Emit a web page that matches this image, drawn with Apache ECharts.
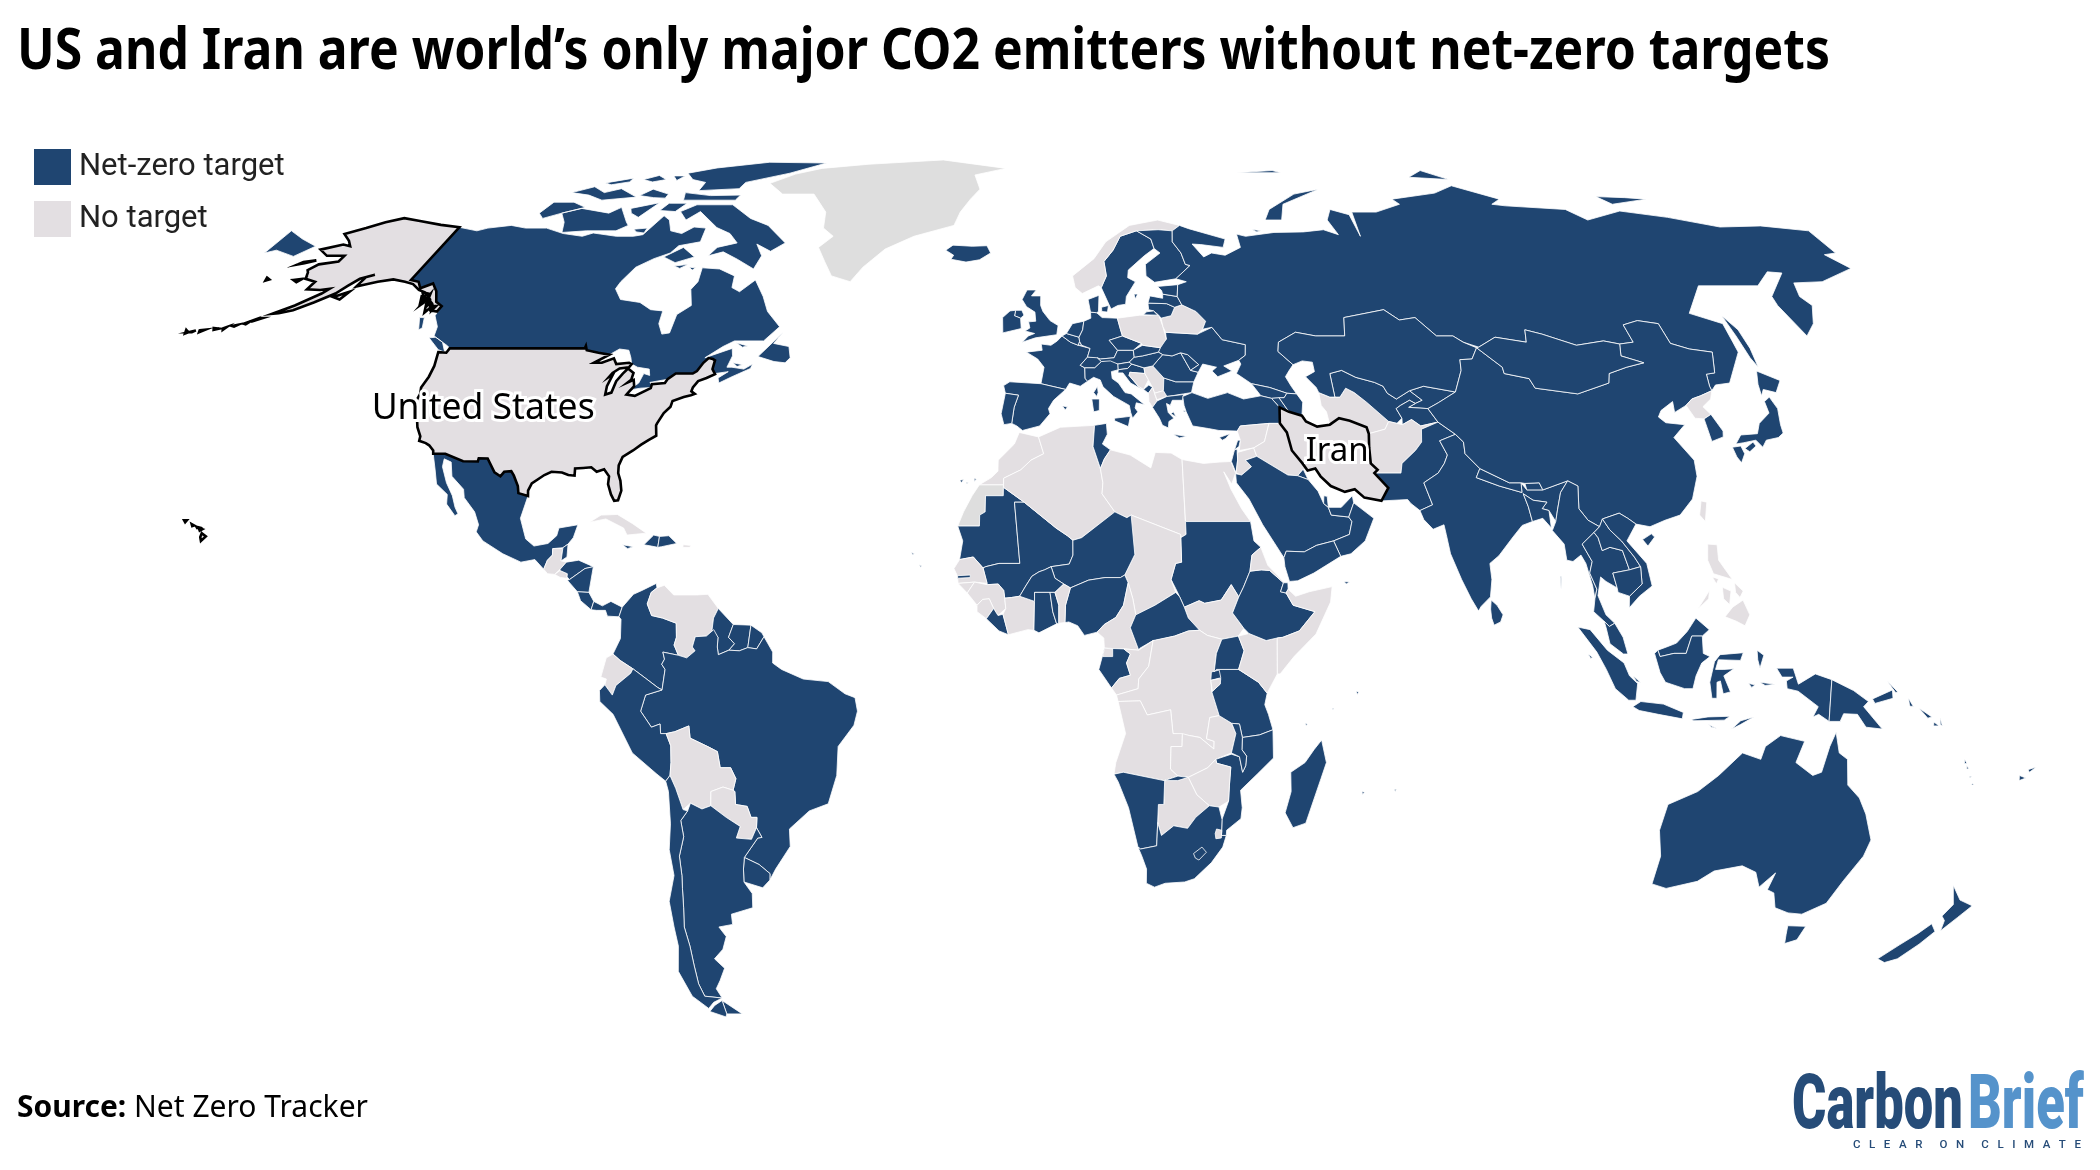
<![CDATA[<!DOCTYPE html>
<html>
<head>
<meta charset="utf-8">
<style>html,body{margin:0;padding:0;background:#fff}#chart{width:2100px;height:1170px}</style>
<script src="https://cdn.jsdelivr.net/npm/echarts@6/dist/echarts.min.js"></script>
</head>
<body>
<div id="chart"></div>
<script>
// Country status, read off the map
const netZeroCountries = ["Canada","Canada Arctic","Mexico","Belize","Honduras","Nicaragua","Costa Rica","Panama","Jamaica","Haiti","Dominican Republic",
  "Colombia","Guyana","Suriname","French Guiana","Brazil","Peru","Uruguay","Argentina","Chile","Iceland","United Kingdom","Ireland","France","Spain","Portugal",
  "Belgium","Netherlands","Luxembourg","Germany","Denmark","Switzerland","Austria","Italy","Slovenia","Croatia","Montenegro","Bulgaria","Greece","Romania","Moldova",
  "Ukraine","Hungary","Slovakia","Czechia","Lithuania","Latvia","Estonia","Sweden","Finland","Russia","Georgia","Armenia","Azerbaijan","Turkey","Cyprus","Lebanon","Israel",
  "Kuwait","Saudi Arabia","Qatar","UAE","Oman","Yemen","Uzbekistan","Kyrgyzstan","Tajikistan","Kazakhstan","Pakistan","India","Nepal","Bhutan","Bangladesh","Sri Lanka",
  "China","Mongolia","South Korea","Japan","Myanmar","Thailand","Laos","Vietnam","Cambodia","Malaysia","Indonesia","Papua New Guinea","Solomon Islands","Vanuatu","Fiji","Australia","New Zealand",
  "Tunisia","Mauritania","Mali","Gambia","Liberia","Burkina Faso","Ghana","Togo","Niger","Nigeria","Central African Republic","Gabon","Sudan","Ethiopia","Djibouti","Uganda","Rwanda",
  "Tanzania","Malawi","Mozambique","Namibia","South Africa","Lesotho","Madagascar","Mauritius","Seychelles","Cape Verde"];
const noTargetCountries = ["Guatemala","El Salvador","Cuba","Puerto Rico","Venezuela","Ecuador","Bolivia","Paraguay","Norway","Poland","Belarus","Bosnia","Serbia","Albania","North Macedonia",
  "Syria","Jordan","Iraq","Turkmenistan","Afghanistan","North Korea","Taiwan","Philippines","Morocco","Algeria","Libya","Egypt","South Sudan","Chad","Senegal","Guinea-Bissau","Guinea","Sierra Leone",
  "Ivory Coast","Benin","Cameroon","Equatorial Guinea","Congo","DR Congo","Angola","Zambia","Burundi","Kenya","Eritrea","Somalia","Zimbabwe","Botswana","Eswatini","United States","Iran"];
const legendLabels = ["Net-zero target", "No target"];
const labelledCountries = ["United States", "Iran"];

// Country outlines as flat lon,lat lists, one list per landmass
const outlines = {
  "Greenland":[[-73,78.2,-68,76,-60,76,-55,72.5,-54,69.5,-51,68,-53.5,66,-51,63.5,-48.5,61,-44,60,-42,62.5,-38,65.7,-32,68,-23,70,-22,72.5,-20,75,-18,77,-20,80,-12,81.5,-30,83.6,-50,82.5,-62,81.5,-68,80.2]],
  "Western Sahara":[[-13.2,27.7,-8.7,27.7,-8.7,26,-12,26,-12,23.5,-13,23,-13,21.3,-17,21.3,-16,23.5,-14.5,26]],
  "Canada":[[-141,69.65,-136,69,-134,69.5,-129,70,-125,69.5,-120,69.5,-115,68.5,-110,68,-108,68.6,-102,68,-98,68,-96,68.3,-94,71.8,-92,71,-90,69,-87,68.5,-85,69.7,-82,69.5,-81.5,67,-86,66.3,-87,65,-90,64,-93,62.5,-94.5,60,-94.8,58.8,-92.5,57,-88,56.5,-85,55.3,-82.3,55.1,-82,53,-80.5,51.3,-79,51.5,-79,54.5,-76.7,56,-78.3,58.7,-77.5,60,-78,62.4,-74,62.2,-70,61,-69.5,59,-67.5,58.3,-65,60.3,-62,57.5,-60,55,-56.5,52.5,-59,50.2,-65,50.2,-67,49.3,-70,47.5,-65,49,-64.5,47.8,-65,46,-64,46,-61.5,45.7,-60,46.5,-60.2,45.8,-63.5,44.5,-65.8,43.5,-66.2,44.3,-64.5,45.3,-67,45,-67.8,45.7,-67.8,47.1,-68.3,47.3,-69.2,47.45,-70,46.7,-70.8,45.4,-71.5,45,-74.9,45,-76.2,44.1,-79.5,43.6,-79,43.2,-79,42.8,-81,42.7,-82.5,42.5,-82.4,43,-81.7,43.5,-81.3,45,-80,44.7,-80.5,45.7,-83,46,-84.4,46.5,-85,47.5,-86,48.7,-88,48.9,-89.6,48,-92,48.3,-94.6,48.7,-95.15,49.4,-95.15,49,-122.8,49,-123.5,49.4,-125,50,-127.5,51,-128,52.5,-130,54.3,-130,55.9,-131.8,56.6,-133.5,58.4,-135.5,59.7,-137.5,58.9,-139,60,-141,60.3],
    [-123.4,48.4,-125,48.8,-128.3,50.7,-127,50.8,-125,50],[-132,54,-133,54,-131.5,52,-131,52.3],[-59.3,47.7,-57,50,-55.5,51.6,-56.8,49.8,-53.5,49.3,-52.7,47.5,-53.5,46.7,-55.8,46.9],[-64,46.7,-62,46.4,-63,46.1],[-64.5,49.9,-62,49.4,-63,49.2]],
  "Canada Arctic":[[-90.7,72.6,-87.8,73.9,-78.9,73.9,-72.6,71.3,-67.5,70,-61.6,66.8,-64.2,65.3,-68.1,66.6,-65.8,64.5,-66.4,62.2,-71,63.9,-75,65.2,-78,64.5,-76.9,66,-72.8,66.8,-75.6,68.5,-79.5,69.6,-85.8,72.6,-88,71],
    [-88,64.3,-84.7,66,-81,64.3,-84.7,63.3],[-84.5,62.7,-81.5,63,-83,62.3],[-81,62.5,-79.5,62.4,-80,62],
    [-125,72.3,-124,74.4,-119,74.4,-115,73.4,-119.5,72.3,-123,71.3],[-119.5,72.3,-115.6,73.2,-108,72.3,-106,73.4,-102,70.6,-101,70,-103,69,-110,69,-115.5,68.7,-117,70.6],
    [-103.5,73.2,-97.5,74.3,-100,71.5,-102.5,72.3],[-96,72.8,-95,74.2,-90.5,74.2,-92,72.6],[-99,69.3,-96,69.5,-96,68.6,-98,68.8],
    [-122,76.3,-117.7,77.5,-113.7,76.3,-110.3,77.1,-104.5,75.4,-112.5,74.8,-117,75.8],[-116,78.3,-110,79.3,-110,78.5,-114,77.9],[-104,75.7,-102,77,-97,76,-97,75.2,-100,75.3],[-93,76.3,-86,75.7,-78.5,75.8,-79,74.8,-92,74.8],
    [-97,80.4,-90.7,81.6,-78,83,-62,82.8,-69.7,80.4,-79.5,78.4,-80,77.1,-90,76.7,-90,78.4,-94,79],[-107,79,-104,79.9,-101,79,-104,78.5],[-100,79.8,-97,79.8,-98,78.8]],
  "Mexico":[[-117.1,32.5,-114.8,32.5,-111,31.33,-108.2,31.3,-108.2,31.8,-106.5,31.75,-104.5,29.6,-103.2,29,-102.7,29.7,-101.4,29.8,-100.7,29.1,-99.5,27.5,-99.1,26.4,-97.2,25.95,-97.8,22.5,-96.2,19.3,-94.5,18.2,-92,18.6,-90.6,19.8,-90.4,21,-87,21.5,-87.5,19.5,-88.3,18.5,-89.15,17.95,-91,17.8,-90.9,16.8,-91.7,16,-92.2,14.6,-94,16.1,-96.5,15.7,-100,17,-104,19,-105.5,20.4,-105.3,21.5,-106.5,23.5,-109,25.7,-109.5,27,-112.3,29,-113.2,31.2,-114.7,31.7,-114.6,30.5,-113,28,-111.3,26,-110.3,24.2,-109.5,23.2,-110,22.9,-112,24.7,-112.3,26.2,-114.8,27.8,-115.8,30]],
  "Guatemala":[[-92.2,14.6,-91.7,16,-90.9,16.8,-91,17.8,-89.15,17.8,-89.2,15.9,-88.2,15.7,-89.2,14.6,-90.1,13.8,-91.4,13.9]],
  "Belize":[[-89.15,17.95,-88.3,18.5,-88.2,16.5,-89.2,15.9]],
  "El Salvador":[[-90.1,13.8,-89.2,14.4,-87.8,13.9,-87.8,13.2,-89,13.3]],
  "Honduras":[[-89.2,14.6,-88.2,15.7,-86,16,-83.2,15,-84.7,14.7,-87.3,13,-87.8,13.4,-87.8,13.9,-89.2,14.4]],
  "Nicaragua":[[-87.3,13,-84.7,14.7,-83.2,15,-83.6,11,-85.7,11.1,-87.7,12.9]],
  "Costa Rica":[[-85.7,11.1,-83.6,11,-82.6,9.6,-83,8.3,-85,9.7]],
  "Panama":[[-83,8.3,-82.6,9.6,-81,8.9,-79.5,9.6,-77.4,8.7,-77.9,7.2,-80,7.3,-80.4,8.2,-82,8.2]],
  "Cuba":[[-84.9,21.9,-83,23,-80,23.1,-77,21.7,-74.2,20.2,-77.7,19.9,-78.5,21,-82,22.4]],
  "Jamaica":[[-78.3,18.4,-76.3,18.1,-77.3,17.8]],
  "Haiti":[[-74.4,18.4,-72.8,19.9,-71.7,19.7,-71.8,18,-73,18.2]],
  "Dominican Republic":[[-71.7,19.7,-70,19.8,-68.4,18.6,-71.1,18.1,-71.8,18]],
  "Puerto Rico":[[-67.2,18.4,-65.7,18.3,-66,18,-67.2,18]],
  "Colombia":[[-77.4,8.7,-75.5,10.7,-74,11.3,-71.5,12.4,-71.3,11.7,-72.3,11,-72.9,9.2,-72,7.4,-70,7,-67.5,6.2,-67.4,4,-67.8,2.8,-67,1.2,-69.8,1.7,-69.5,0.6,-70,-0.2,-69.4,-1,-70,-4.2,-70.8,-3.8,-72.9,-2.4,-75.2,-0.9,-77.5,0.4,-78.8,1.4,-77.5,3.8,-77.5,6.8,-77.9,7.2]],
  "Venezuela":[[-71.3,11.7,-70,12.1,-68.2,10.6,-64,10.6,-62,10.7,-60,8.5,-60.8,7,-61,5.2,-60.7,5.2,-62,4.2,-64,4.1,-64.5,2.5,-64,1.9,-65.5,0.8,-67,1.2,-67.8,2.8,-67.4,4,-67.5,6.2,-70,7,-72,7.4,-72.9,9.2,-72.3,11]],
  "Guyana":[[-60,8.5,-57.2,6,-58,4,-56.9,3,-57.9,2,-59.8,1.3,-60,2.5,-59.9,4,-61,5.2,-60.8,7]],
  "Suriname":[[-57.2,6,-54,5.9,-54.5,2.4,-56,1.9,-57.9,2,-56.9,3,-58,4]],
  "French Guiana":[[-54,5.9,-52,4.7,-51.6,4.1,-52.9,2.2,-54.5,2.4]],
  "Brazil":[[-51.6,4.1,-50,1.7,-50,0,-48.4,-1,-44.5,-2.5,-40,-2.9,-37,-4.8,-35.2,-5.4,-34.8,-7.5,-35.5,-9.7,-38.5,-13,-39,-17.5,-40.9,-21.9,-44.5,-23,-48.5,-25.8,-48.7,-28.5,-52,-32,-53.4,-33.7,-53.2,-32.7,-55,-31.3,-57.6,-30.2,-54.6,-27.2,-53.8,-27.1,-54.6,-25.6,-54.3,-24,-55.4,-24,-55.9,-22.3,-58,-22,-57.9,-20,-58.2,-19.8,-57.5,-18,-58.3,-16.3,-60.2,-16.3,-60.5,-13.8,-62,-13.1,-65.3,-11.7,-65.4,-9.8,-68,-10.7,-69.6,-11,-70.6,-11,-70.6,-9.5,-72.2,-10,-74,-7.5,-73,-5,-70,-4.2,-69.4,-1,-70,-0.2,-69.5,0.6,-69.8,1.7,-67,1.2,-65.5,0.8,-64,1.9,-64.5,2.5,-64,4.1,-62,4.2,-60.7,5.2,-59.9,4,-60,2.5,-59.8,1.3,-57.9,2,-56,1.9,-54.5,2.4,-52.9,2.2]],
  "Ecuador":[[-78.8,1.4,-77.5,0.4,-75.2,-0.9,-75.6,-1.6,-78.3,-3.5,-79,-5,-80.3,-3.4,-80,-2.5,-81,-2.2,-80,0.8]],
  "Peru":[[-80.3,-3.4,-79,-5,-78.3,-3.5,-75.6,-1.6,-75.2,-0.9,-72.9,-2.4,-70.8,-3.8,-70,-4.2,-73,-5,-74,-7.5,-72.2,-10,-70.6,-9.5,-70.6,-11,-69.6,-11,-68.9,-12.9,-69.1,-15.5,-69.5,-17.5,-70.4,-18.4,-72,-17.2,-76,-14,-79,-8,-81.3,-6,-81.3,-4.3]],
  "Bolivia":[[-69.6,-11,-68,-10.7,-65.4,-9.8,-65.3,-11.7,-62,-13.1,-60.5,-13.8,-60.2,-16.3,-58.3,-16.3,-57.5,-18,-58.2,-19.8,-60,-19.3,-62.3,-20,-62.6,-22.2,-64.3,-22.7,-66.3,-21.8,-67.8,-22.8,-68.7,-19.5,-69.5,-17.5,-69.1,-15.5,-68.9,-12.9]],
  "Paraguay":[[-58.2,-19.8,-57.9,-20,-58,-22,-55.9,-22.3,-55.4,-24,-54.3,-24,-54.6,-25.6,-55.8,-27.4,-58.6,-27.2,-57.6,-25.4,-60,-24,-62.6,-22.2,-62.3,-20,-60,-19.3]],
  "Uruguay":[[-57.6,-30.2,-55,-31.3,-53.2,-32.7,-53.4,-33.7,-55,-34.9,-58.4,-34,-58.1,-32]],
  "Argentina":[[-66.3,-21.8,-64.3,-22.7,-62.6,-22.2,-60,-24,-57.6,-25.4,-58.6,-27.2,-55.8,-27.4,-54.6,-25.6,-53.8,-27.1,-54.6,-27.2,-57.6,-30.2,-58.1,-32,-58.4,-34,-57.2,-35.8,-57.6,-38,-62,-39,-62.2,-40.6,-65,-41,-64,-42.5,-65.3,-44.5,-67.5,-46,-66,-47.5,-67.7,-49.5,-69,-50.8,-68.4,-52.3,-71.9,-52,-72.3,-50,-72,-47,-71.7,-44,-71.8,-41,-71,-38,-70.4,-35,-70,-33,-69.8,-30,-68.4,-27,-68.5,-24.5,-67,-23],[-68.6,-52.7,-68.6,-54.9,-65.3,-54.9]],
  "Chile":[[-70.4,-18.4,-69.5,-17.5,-68.7,-19.5,-67.8,-22.8,-67,-23,-68.5,-24.5,-68.4,-27,-69.8,-30,-70,-33,-70.4,-35,-71,-38,-71.8,-41,-71.7,-44,-72,-47,-72.3,-50,-71.9,-52,-68.4,-52.3,-70.5,-53,-72,-54,-74.5,-52,-75.6,-48,-74,-44,-73.8,-41,-73.5,-37,-71.5,-33,-71.5,-29,-70.5,-25,-70.1,-20],[-68.6,-52.7,-70.5,-53.5,-72,-54.5,-69,-55.4,-68.6,-54.9]],
  "Morocco":[[-5.9,35.8,-2.2,35.1,-1.2,32.5,-3.6,31.5,-5.5,30,-8.7,28.7,-8.7,27.7,-13.2,27.7,-11,28.8,-9.8,29.8,-9.8,31.5,-6.8,34]],
  "Mauritania":[[-17,21.3,-13,21.3,-13,23,-12,23.5,-12,26,-8.7,26,-8.7,27.3,-4.8,25,-6.6,25,-5.5,15.5,-9.3,15.5,-11.7,15,-12.2,14.8,-14,16.5,-16.5,16.1,-16,19]],
  "Mali":[[-4.8,25,1.1,21,3.2,19.8,4.2,19.1,4.2,16.8,3.5,15.4,0.2,15,-1,14.5,-2,14.2,-3.3,13.5,-4.4,12,-5.5,10.4,-7,10.2,-8.2,10.1,-8.4,11.3,-9.4,12.3,-11.4,12.2,-12.2,14.8,-11.7,15,-9.3,15.5,-5.5,15.5,-6.6,25]],
  "Algeria":[[-2.2,35.1,2,36.6,8.6,36.9,8.2,33.6,9.5,30.2,9.9,28,9.7,26.3,12,23.5,5.8,19.5,4.2,19.1,3.2,19.8,1.1,21,-4.8,25,-8.7,27.3,-8.7,28.7,-5.5,30,-3.6,31.5,-1.2,32.5]],
  "Tunisia":[[8.6,36.9,10.9,37.2,11,35.5,10,34,11.5,33.1,10.3,31.7,9.5,30.2,8.2,33.6]],
  "Libya":[[11.5,33.1,15.2,32.3,19,30.3,20,32.7,23,32.6,25,31.6,25,20,24,19.5,24,20,15,23,14.2,22.6,12,23.5,9.7,26.3,9.9,28,9.5,30.2,10.3,31.7]],
  "Egypt":[[25,31.6,29,31,32,31.2,34.2,31.3,34.9,29.5,34,27.8,32.7,29.7,33.8,27,35.5,24,37,22,25,22]],
  "Sudan":[[25,22,37,22,37.4,19,38.6,18,36.9,16.8,36.4,14.3,35.1,11.8,34.2,10.3,32.9,12.2,31,9.8,28,9.3,27,9.7,24.3,8.7,23.5,10.3,22.8,11.6,22,13,22.9,15.5,24,15.7,24,19.5,25,20]],
  "South Sudan":[[24.3,8.7,27,9.7,28,9.3,31,9.8,32.9,12.2,34.2,10.3,33,7.8,35,5.4,34,4.2,31,3.7,28.4,4.3,27,5.1,25,7]],
  "Chad":[[14.2,22.6,15,23,24,20,24,15.7,22.9,15.5,22,13,22.8,11,19,9,15.5,7.5,15,10,14.2,12.5,13.6,13.7,15.5,16.9]],
  "Niger":[[12,23.5,14.2,22.6,15,23,15.5,16.9,13.6,13.7,12.8,13.3,10,13.3,7,12.9,3.7,11.7,2.5,12.3,0.9,13.2,0.2,15,3.5,15.4,4.2,16.8,4.2,19.1,5.8,19.5]],
  "Nigeria":[[2.7,6.3,2.8,9,3.7,11.7,7,12.9,10,13.3,12.8,13.3,13.6,13.7,14.2,12.5,13.3,9,11.9,7.1,9.8,6,8.5,4.8,6.2,4.3,5,5.8,3.4,6.4]],
  "Cameroon":[[8.5,4.8,9.8,6,11.9,7.1,13.3,9,14.2,12.5,15,10,15.5,7.5,14.5,5.5,16,2,13.3,2.2,9.8,2.3,9.7,3.9]],
  "Central African Republic":[[14.5,5.5,15.5,7.5,19,9,22.8,11,23.5,10.3,24.3,8.7,25,7,27,5.1,25,5,22.5,4.2,19,3.5,18.6,3.5,16.2,2.3,16,2]],
  "Gabon":[[9.8,2.3,13.3,2.2,14.5,1.4,13.8,0,14.5,-1.9,12.5,-2.4,11.1,-3.9,8.8,-1,9.3,0.6]],
  "Equatorial Guinea":[[9.8,2.3,11.3,2.2,11.3,1,9.5,1]],
  "Congo":[[16,2,18.6,3.5,17.8,-0.5,16,-2.5,15.9,-4,12,-5,11.1,-3.9,12.5,-2.4,14.5,-1.9,13.8,0,14.5,1.4,13.3,2.2]],
  "DR Congo":[[18.6,3.5,22.5,4.2,25,5,27,5.1,28.4,4.3,31,3.7,30,1.5,29.6,-1.4,29,-2.7,29.2,-4.5,30.6,-8.2,28.9,-8.5,28.4,-11.8,29.8,-12.2,29.8,-13.4,27.2,-11.6,25.3,-11.3,22.3,-11,21.8,-7.3,17.6,-8.1,16.3,-5.9,12.3,-6,12,-5,15.9,-4,16,-2.5,17.8,-0.5]],
  "Angola":[[12.3,-6,16.3,-5.9,17.6,-8.1,21.8,-7.3,22.3,-11,24,-11,24,-13,22,-13,22,-16.5,23.4,-17.6,20.9,-18.3,13.4,-17,11.7,-17.3,12,-15.5,13.7,-11,13,-8.5]],
  "Zambia":[[22,-13,24,-13,24,-11,25.3,-11.3,27.2,-11.6,29.8,-13.4,29.8,-12.2,28.4,-11.8,28.9,-8.5,30.6,-8.2,32.9,-9.4,33.7,-11,33,-14,30.2,-15,28.8,-16.3,25.3,-17.8,23.4,-17.6,22,-16.5]],
  "Tanzania":[[30,-1,34,-1,37.6,-3,39.2,-4.7,38.8,-6.5,39.5,-8,40.4,-10.4,38,-11.2,34.9,-11.6,34.3,-9.5,32.9,-9.4,30.6,-8.2,29.2,-4.5,30.7,-3.2,30.4,-2.2]],
  "Rwanda":[[29.1,-1.4,30.5,-1.1,30.8,-2.3,29,-2.7]],
  "Burundi":[[29,-2.7,30.8,-2.4,30.7,-3.3,29.3,-4.4]],
  "Uganda":[[31,3.7,34,4.2,35,1.9,34,-1,30,-1,29.6,-1.4,30,1.5]],
  "Kenya":[[34,4.2,35.9,4.6,39,3.5,41,3.9,41,-1.7,39.2,-4.7,37.6,-3,34,-1,35,1.9]],
  "Ethiopia":[[33,7.8,34.2,10.3,35.1,11.8,36.4,14.3,38.5,14.5,40,14.4,42.4,12.5,41.8,11.1,42.8,10.9,44,9,47.9,8,45,5,42,4,41,3.9,39,3.5,35.9,4.6,35,5.4]],
  "Eritrea":[[36.4,14.3,36.9,16.8,38.6,18,39.7,15.2,42.4,12.7,42.4,12.5,40,14.4,38.5,14.5]],
  "Djibouti":[[42.4,12.5,43.2,12.5,43.2,11.5,42.8,10.9,41.8,11.1]],
  "Somalia":[[42.8,10.9,43.2,11.5,44.5,10.4,47,11.1,51.2,11.9,50.8,9.5,48,4.5,44,1,41.5,-1.7,41,-1.7,41,3.9,42,4,45,5,47.9,8,44,9]],
  "Mozambique":[[34.9,-11.6,38,-11.2,40.4,-10.4,40.7,-14.8,38,-17.2,35,-19.8,35.5,-22.5,35.4,-24.2,32.9,-26,32.9,-26.8,32,-26.8,31.9,-24.3,32.9,-21.5,32.9,-19,33,-16.2,30.4,-15.6,30.2,-15,33,-14.2,34.5,-14.6,35.2,-17,35.7,-16,35.8,-14.5,34.9,-13.5]],
  "Malawi":[[32.9,-9.4,34.3,-9.5,34.9,-11.6,34.9,-13.5,35.8,-14.5,35.7,-16,35.2,-17,34.5,-14.6,33,-14,33.7,-11]],
  "Zimbabwe":[[25.3,-17.8,28.8,-16.3,30.2,-15,30.4,-15.6,33,-16.2,32.9,-19,32.9,-21.5,31.2,-22.4,29.4,-22.2,27,-20.5]],
  "Botswana":[[21,-18.3,23.4,-17.6,25.3,-17.8,27,-20.5,29.4,-22.2,27,-24,25.6,-25.7,23,-25.3,20.8,-26.8,20,-24.8,20,-22,21,-22]],
  "Namibia":[[11.7,-17.3,13.4,-17,20.9,-18.3,23.4,-17.6,25.3,-17.8,23.4,-18.3,21,-18.3,21,-22,20,-22,20,-28.4,17,-28.9,16.5,-28.6,14.5,-22.5,12.5,-18.5]],
  "South Africa":[[16.5,-28.6,17,-28.9,20,-28.4,20,-24.8,20.8,-26.8,23,-25.3,25.6,-25.7,27,-24,29.4,-22.2,31.2,-22.4,31.9,-24.3,32,-26.8,32.9,-26.8,32.4,-28.6,30.5,-31,27.5,-33.5,25.7,-34,22,-34.2,20,-34.8,18.4,-34.2,18.3,-32,17.3,-30]],
  "Lesotho":[[27,-29.6,28.5,-28.6,29.4,-29.4,28.1,-30.6,27.4,-30.3]],
  "Eswatini":[[31,-25.8,32,-26,32,-27.2,31,-27.3,30.8,-26.5]],
  "Madagascar":[[49.3,-12,50.4,-15.5,49.6,-18,47.5,-24.9,45.2,-25.6,43.5,-23.3,44.3,-20,44,-17,46.5,-15.5,48,-13.5]],
  "Mauritius":[[57.3,-20,57.8,-20.1,57.5,-20.5],[63.2,-19.6,63.6,-19.7,63.4,-20]],
  "Seychelles":[[55.2,-4.4,55.7,-4.5,55.5,-4.9],[46.2,-9.4,46.6,-9.5,46.4,-9.8],[51,-7,51.3,-7.1,51.1,-7.3]],
  "Cape Verde":[[-25.3,17.2,-24.8,17,-25.1,16.8],[-23.8,15.3,-23.4,15.1,-23.6,14.9]],
  "Senegal":[[-17.5,14.7,-16.5,16.1,-14,16.5,-12.2,14.8,-11.4,12.4,-13.7,12.6,-16.7,12.4,-16.8,13.5]],
  "Gambia":[[-16.8,13.6,-14.5,13.7,-14.5,13.3,-16.8,13.2]],
  "Guinea-Bissau":[[-16.7,12.4,-13.7,12.6,-15,10.9]],
  "Guinea":[[-13.7,12.6,-11.4,12.2,-9.4,12.3,-8.4,11.3,-8.2,10.1,-8,8.5,-9.4,7.4,-10.2,8.5,-11,10,-12.2,9.9,-13.2,9,-15,10.9]],
  "Sierra Leone":[[-13.2,9,-12.2,9.9,-11,10,-10.2,8.5,-11.5,6.9,-13.2,8]],
  "Liberia":[[-11.5,6.9,-10.2,8.5,-9.4,7.4,-8.5,7.6,-7.5,4.4,-9.2,5]],
  "Ivory Coast":[[-8.5,7.6,-8,8.5,-8.2,10.1,-7,10.2,-5.5,10.4,-2.8,9.6,-2.9,5.1,-4,5.2,-7.5,4.4]],
  "Burkina Faso":[[-5.5,10.4,-4.4,12,-3.3,13.5,-2,14.2,-1,14.5,0.2,15,0.9,13.2,2.5,12.3,0.9,11,-2.8,11,-2.8,9.6]],
  "Ghana":[[-2.8,11,0,11,0.5,8,1.2,6.1,-2,4.7,-2.9,5.1,-2.8,9.6]],
  "Togo":[[0,11,0.9,11,1.6,9,1.6,6.2,1.2,6.1,0.5,8]],
  "Benin":[[0.9,11,2.5,12.3,3.7,11.7,2.8,9,2.7,6.3,1.6,6.2,1.6,9]],
  "Iceland":[[-24,65.5,-22.5,66.4,-18,66.2,-14.6,66.3,-13.6,65,-16,63.8,-19,63.4,-22.5,63.9,-22,64.6]],
  "United Kingdom":[[-5.7,50,-3,50.7,1.4,51.2,1.7,52.7,0,53.5,-1.5,55,-2,56,-2,57.6,-4,57.6,-3,58.6,-5,58.6,-6,57,-5,55.8,-3.2,54.9,-3,53.4,-4.5,53.3,-4.2,52.3,-5.2,51.8,-3.2,51.4,-4.5,51],[-7.3,55.2,-6,55.2,-5.5,54.4,-6.2,53.9,-7.5,54.3]],
  "Ireland":[[-6.2,53.9,-6,52.2,-9.8,51.5,-10,54,-8.5,55.1,-7.3,55.2,-7.5,54.3]],
  "France":[[2.5,51,4.2,50,5.8,49.5,8.2,49,7.6,47.6,6.1,46.3,7,45.9,7,44.2,7.5,43.8,6,43,3.9,43.5,3.1,42.5,-1.8,43.4,-1.2,46,-2.5,47.3,-4.8,48.4,-1.6,48.7,-1.8,49.7,0.2,49.5,1.5,50.2],[9.4,43,9.5,42,9.2,41.4,8.6,42]],
  "Spain":[[-1.8,43.4,3.1,42.5,0.7,40.8,-0.3,39.5,0,38.7,-2,36.8,-5.3,36.1,-6.4,36.8,-7.4,37.2,-7,39.7,-6.2,41.6,-8.8,41.9,-9.2,43.1,-8,43.7],[2.4,39.9,3.4,39.8,3,39.3],[-16.9,28.4,-16.2,28.5,-16.6,28],[-15.7,28.1,-15.3,28,-15.6,27.8],[-14.2,28.7,-13.8,28.6,-14.2,28.2]],
  "Portugal":[[-8.8,41.9,-6.2,41.6,-7,39.7,-7.4,37.2,-8.9,37,-9.5,38.7]],
  "Belgium":[[2.5,51,3.4,51.4,6,50.8,6.1,50.1,5.8,49.5,4.2,50]],
  "Netherlands":[[3.4,51.4,4.7,53,7.1,53.4,6.8,52,6,50.8]],
  "Luxembourg":[[5.8,49.5,6.5,49.5,6.1,50.1]],
  "Germany":[[6,50.8,6.8,52,7.1,53.4,8.6,53.9,8.6,54.9,9.9,54.8,11,54,14.2,53.9,14.7,52,15,51,12.2,50.3,13.8,48.7,13,47.5,10.2,47.3,7.6,47.6,8.2,49,6.5,49.5,6.1,50.1]],
  "Denmark":[[8.6,54.9,8.2,57,10.6,57.7,10.3,55,9.9,54.8],[11,55.7,12.5,56,12.2,54.9,11,55]],
  "Switzerland":[[6.1,46.3,7.6,47.6,9.6,47.5,10.4,46.9,9,45.9,7,45.9]],
  "Austria":[[9.6,47.5,10.2,47.3,13,47.5,13.8,48.7,17,48.7,17.1,47.6,16,46.8,13.7,46.5,10.4,46.9]],
  "Italy":[[7,45.9,9,45.9,10.4,46.9,12.2,47,13.7,46.5,13.7,45.6,12.3,45.3,12.4,44.2,13.6,43.5,14.8,42,16,41.8,18.5,40.1,16.9,40.4,16.6,39.6,17.1,39,16,38,15.7,38.9,15.5,40,12.5,41.4,10.5,42.9,10,44,8.7,44.4,7.5,43.8,7,44.2],[12.5,38,15.6,38.3,15.1,36.7,12.5,37.6],[8.2,41,9.7,41,9.6,39.2,8.5,39]],
  "Slovenia":[[13.7,45.6,13.7,46.5,16,46.8,16.5,46.5,15.6,45.8]],
  "Croatia":[[13.6,45.1,13.7,45.6,15.6,45.8,16.5,46.5,18.9,45.9,19,45,16,45.2,15.8,44.7,17.5,43,18.5,42.4,16,43.5,14.6,45.1]],
  "Bosnia":[[16,45.2,19,45,19.6,44,18.5,42.5,17.5,43,15.8,44.7]],
  "Serbia":[[18.9,45.9,20.7,46.2,22.7,44.3,22.4,42.3,20.6,41.9,20.3,42.8,19.6,44,19,45]],
  "Montenegro":[[18.5,42.5,19.6,43.2,20.3,42.8,19.4,41.9]],
  "Albania":[[19.4,41.9,20.3,42.8,20.6,41.9,21,40.7,20,39.7,19.4,40.6]],
  "North Macedonia":[[20.6,41.9,22.4,42.3,23,41.4,21,40.9]],
  "Bulgaria":[[22.7,44.3,25,43.7,28.6,43.7,27.9,42,26.3,41.8,24,41.5,23,41.4,22.4,42.3]],
  "Greece":[[20,39.7,21,40.7,23,41.4,26.3,41.7,26,40.8,24,40.8,23.5,40,22.8,40.3,23,38.9,24,38,23,37.5,22.8,36.5,21.7,36.9,21.2,38],[23.6,35.5,26.2,35.2,24.8,34.95],[24,39,24.5,38.2,23.5,38.7],[26,39.3,26.6,39,26,39]],
  "Romania":[[20.7,46.2,22.9,48,24.8,47.8,26.6,48.3,28.2,45.5,29.7,45.2,28.6,43.7,25,43.7,22.7,44.3]],
  "Moldova":[[26.6,48.3,28,48,30,46.4,28.2,45.5]],
  "Ukraine":[[22.1,48.4,22.6,49.5,24,50.5,24,51.6,30.6,51.3,33.8,52.4,35.5,50.4,40.1,49.6,39.7,47.9,38.2,47.1,35,46.2,36.5,45.4,33.5,44.5,32.5,45.4,33.5,46,30.8,46.5,29.7,45.2,28.2,45.5,30,46.4,28,48,26.6,48.3,24.8,47.8,22.9,48]],
  "Hungary":[[16,46.8,17.1,47.6,18.8,47.8,22.1,48.4,22.9,48,20.7,46.2,18.9,45.9,16.5,46.5]],
  "Slovakia":[[17,48.7,19,49.5,22.6,49.1,22.1,48.4,18.8,47.8,17.1,47.6]],
  "Czechia":[[12.2,50.3,15,51,18.8,49.8,17,48.7,13.8,48.7]],
  "Poland":[[14.2,53.9,19,54.4,23,54.4,23.6,52.5,24,50.5,22.6,49.1,19,49.5,18.8,49.8,15,51,14.7,52]],
  "Belarus":[[23.4,53.9,25.6,54.3,26.6,55.7,28.2,56.1,31,55,32.7,53.4,31.8,52.1,30.6,51.3,24,51.6,23.6,52.5]],
  "Lithuania":[[21,56.4,25,56.3,26.6,55.7,25.6,54.3,23.4,53.9,23,54.4,22,55.1,21,55.3]],
  "Latvia":[[21,56.4,21.6,57.6,24.3,57.2,24.4,57.9,27.5,57.5,28.2,56.1,26.6,55.7,25,56.3]],
  "Estonia":[[24.4,57.9,24.3,58.5,23.5,59.2,28,59.5,27.5,57.5]],
  "Sweden":[[11.2,59,12.5,61,12.2,63.5,14.5,65.5,16.5,68,20.5,69,23.6,67.5,24,65.8,21.5,64.5,17.5,62,17.2,60.7,18.8,60,16.5,57.5,16.2,56.2,14.5,56,13,55.4],[18.2,57.9,19,57.9,18.4,57.1]],
  "Norway":[[5,61,5.5,59,7,58,10.6,59.3,11.2,59,12.5,61,12.2,63.5,14.5,65.5,16.5,68,20.5,69,25.7,69.2,29,69,31,70,26,71,19,70,13,67,10,64]],
  "Finland":[[20.5,69,25.7,69.2,29,69,28.5,67,30,65,30.5,63,31.5,62.8,27.8,60.5,23,59.9,21.3,61,21.5,63,25.2,65,24,65.8,23.6,67.5]],
  "Russia":[[31,70,33,69.4,41,67.5,40,66,35,66.5,33,66.6,35,64.3,37,65,40,64.6,44,66,44,68.4,46,68,53,68.7,60,68.8,65,69.2,68,68.3,67,71,69,73,73,72,73,68,74,72.5,80,72.5,87,74,86,75,98,76.2,104,77.7,113,75,110,74,113,73.7,127,73,130,71,140,72.7,150,71.5,160,69.7,170,69.9,180,69,180,65,177,64.7,179.5,62.3,170,60,163.5,59.8,162,57.5,163,56,160,53,156.7,51,155.6,56,156,57.5,163,61.5,160,61.7,155,59.3,142,59.3,135.5,54.7,141,53,140.5,50,140.3,48.4,135,43.5,132,43.2,130.7,42.3,130.7,43,131.3,44.9,133.1,45.1,135,48.4,130.7,48.9,127.5,49.8,127.5,53,123.5,53.5,120,52.8,120,50,117,49.7,114,50.2,108,49.5,102,51.3,98.9,52,98,50,92,50.8,87.8,49.2,85,50,83.4,51,80,51,77,54,73.5,53.6,71,55.3,62,54,61,51,55,51,51,51.6,47,50,46.5,48.5,49,46.4,48,45.5,47,44.5,47.8,43,48.6,41.8,46.7,41.9,43.5,42.8,40,43.4,37.3,45,38.5,46.5,38.2,47.1,39.7,47.9,40.1,49.6,35.5,50.4,33.8,52.4,31.8,52.1,32.7,53.4,31,55,28.2,56.1,27.5,57.5,28,59.5,30,60,27.8,60.5,31.5,62.8,30.5,63,30,65,28.5,67,29,69],
    [-180,69,-175,67.5,-170,66.2,-172.5,64.4,-178,65.5,-180,65],[52,71,56,71,58,74,69,77,62,76,54,73],[142,54.3,143.3,52,143.2,49,142.5,46,142,47.5,142,51],[95,79.5,105,79,100,81],[50,80.5,60,81,62,80.5],[138,75.5,145,75.3,150,75,140,74],[48,69.3,50,69,49,68.8],[19.8,54.45,22.8,54.4,22,55.1,20.5,54.95]],
  "Georgia":[[40,43.4,43.5,42.8,46.7,41.9,46,41.2,43.5,41.1,41.5,41.5]],
  "Armenia":[[43.5,41.1,45,41.2,46.5,39,44.8,39.7]],
  "Azerbaijan":[[45,41.2,46,41.2,46.7,41.9,48.6,41.8,49.5,40.5,48.9,38.4,46.5,39]],
  "Turkey":[[26.1,41.4,28,42,31,41.1,35,42,38,41,41.5,41.5,43.5,41.1,44.8,39.7,44.4,37.2,42.3,37.2,36.7,36.8,36,36,32.5,36.1,30.5,36.4,27.5,36.8,26.5,39,26.2,40]],
  "Cyprus":[[32.4,35,34.5,35.6,33.7,34.9,33,34.6]],
  "Syria":[[36,36,36.7,36.8,42.3,37.2,41,34.4,38.8,33.4,36,33,36.4,34.6]],
  "Lebanon":[[35.1,33.1,35.9,34.6,36.4,34.6,36,33.6]],
  "Israel":[[34.3,31.3,35.1,33.1,35.6,33.2,35.5,31.5,35,29.5]],
  "Jordan":[[35,29.5,35.5,31.5,35.6,32.7,38.8,33.4,39.2,32.1,37,31.5,38,30.5,36,29.2]],
  "Iraq":[[38.8,33.4,41,34.4,42.3,37.2,44.4,37.2,45.5,35.8,46,33,47.7,31,48.5,29.9,47.7,30.1,46.5,29.1,44.7,29.2,39.2,32.1]],
  "Kuwait":[[46.5,29.1,47.7,30.1,48.4,28.5]],
  "Saudi Arabia":[[34.9,29.4,36,29.2,38,30.5,37,31.5,39.2,32.1,44.7,29.2,46.5,29.1,48.4,28.5,50,26.7,50.8,24.8,51.6,24.2,52,23,55.2,22.7,55.7,22,55,20,52,19,48.8,18.3,46.5,17.3,43.2,17.4,42.7,16.4,39.2,21.5,37,25.5,34.9,28]],
  "Qatar":[[50.8,24.8,51.6,24.2,51.6,25.9,51,26]],
  "UAE":[[51.6,24.2,54,24.2,56.3,26,56.4,24.9,55.2,22.7,52,23]],
  "Oman":[[56.4,24.9,59.8,22.5,57.8,19,55,17,53.1,16.6,52,19,55,20,55.7,22,55.2,22.7]],
  "Yemen":[[42.7,16.4,43.2,17.4,46.5,17.3,48.8,18.3,52,19,53.1,16.6,48,14,45,12.8,43.5,12.7,42.8,15],[53.4,12.7,54.4,12.6,53.8,12.3]],
  "Turkmenistan":[[53,42,55,41.3,56,41.3,57,41.3,58.5,42.7,60,42,62,40.5,65.5,37.5,64.5,36.3,61.2,35.6,61,36.6,58,37.6,56,38,54,37,53.8,39,53,40]],
  "Uzbekistan":[[56,45,58.5,45.5,61,44.4,64.5,43.6,66,43,66.5,41.9,68,41,71,42.3,73,40.8,71.5,40.3,70.5,40.8,68.5,40,67.5,39.5,68.2,38,67,37.2,65.5,37.5,62,40.5,60,42,58.5,42.7,57,41.3,56,41.3]],
  "Kyrgyzstan":[[71,42.3,74,43,80,42.1,76,40.4,73.7,39.5,70,39.7,71.5,40.3,73,40.8]],
  "Tajikistan":[[68.2,38,67.5,39.5,68.5,40,70.5,40.8,71.5,40.3,70,39.7,73.7,39.5,75,37.4,71.5,36.8,70,37.8,68,37]],
  "Kazakhstan":[[47,50,51,51.6,55,51,61,51,62,54,71,55.3,73.5,53.6,77,54,80,51,83.4,51,85,50,87.3,49.1,85.5,47.3,83,47.2,82.5,45.5,80,42.1,74,43,71,42.3,68,41,66.5,41.9,66,43,64.5,43.6,61,44.4,58.5,45.5,56,45,56,41.3,55,41.3,53,42,52.7,42.8,51,44.5,53,45.3,53,46.8,51,47,49,46.4,46.5,48.5]],
  "Afghanistan":[[61.2,35.6,64.5,36.3,65.5,37.5,67,37.2,68,37,70,37.8,71.5,36.8,75,37.4,71.5,36.3,71,34.3,69.5,33,66.5,31,66,29.5,61,29.5,61.7,30,60.6,31,60.8,33.5]],
  "Pakistan":[[61,29.5,66,29.5,66.5,31,69.5,33,71,34.3,71.5,36.3,75,37.4,77.8,35.5,74.5,34.5,75.4,32.3,74.5,31,73,29.5,70,28,71,24.6,68.5,23.7,67,24.8,66.5,25.4,61.6,25.2,63.2,27.2]],
  "India":[[68.5,23.7,71,24.6,70,28,73,29.5,74.5,31,75.4,32.3,74.5,34.5,77.8,35.5,79,34.3,78.8,32.5,81,30.2,80,28.8,84,27.5,88,26.5,88.2,28,89,26.9,92,26.9,97,28.3,95.2,26.5,94,23.8,93.3,22,92.4,23.7,91.2,24,92.3,25,89.8,25.3,88.2,26.3,88.7,24.3,89,22,87,21.4,85,19.6,82,16.7,80.2,15.5,80.3,13,79.8,10.3,78,8.8,77.5,8.1,76.3,10,74.8,13,73.2,17,72.8,20,72.6,21.5,70.5,20.8,69,22.3],[92.8,13.5,93,13.4,92.7,11.5]],
  "Nepal":[[80,28.8,81,30.2,86,28,88.2,28,88,26.5,84,27.5]],
  "Bhutan":[[89,26.9,88.9,27.9,91.6,28,92,26.9]],
  "Bangladesh":[[88.2,26.3,89.8,25.3,92.3,25,91.2,24,92.4,23.7,92.3,21,91,22.5,89,22,88.7,24.3]],
  "Sri Lanka":[[79.9,9.8,80.9,9,81.9,7.5,81.4,6.4,80.2,5.9,79.8,7,79.7,8.4]],
  "China":[[73.7,39.5,76,40.4,80,42.1,82.5,45.5,83,47.2,85.5,47.3,87.3,49.1,91,46,90.9,45,95.5,44.2,96,42.7,104,41.8,111,43.5,111.9,45,116,46,119.9,46.7,116,47.8,117,49.7,120,50,120,52.8,123.5,53.5,127.5,53,127.5,49.8,130.7,48.9,135,48.4,133.1,45.1,131.3,44.9,130.7,43,130.7,42.3,128,41.5,126,41,124.3,40,121.5,38.9,122,40.6,119,39.2,118,38.2,119,37.3,122.5,37,119.5,35,121.9,31.5,121.5,29,119.5,25.5,116.5,23,113.5,22.2,110.5,21.2,108,21.6,106.7,22.5,105.3,23.3,102,22.4,101.2,21.2,99.3,22.2,98,24,98.7,27.5,97,28.3,92,26.9,91.6,28,88.9,27.9,88.2,28,86,28,81,30.2,78.8,32.5,79,34.3,77.8,35.5,75,37.4],[108.7,19.2,110.5,20.1,111,19.6,109.5,18.2]],
  "Taiwan":[[121,25.2,122,25,120.9,22,120.1,23]],
  "Mongolia":[[87.8,49.2,92,50.8,98,50,98.9,52,102,51.3,108,49.5,114,50.2,117,49.7,116,47.8,119.9,46.7,116,46,111.9,45,111,43.5,104,41.8,96,42.7,95.5,44.2,90.9,45,91,46,87.3,49.1]],
  "North Korea":[[124.3,40,126,41,128,41.5,130.7,42.3,129.7,41,127.5,39.8,128.4,38.6,126.7,37.9,125,38]],
  "South Korea":[[126.7,37.9,128.4,38.6,129.4,36,129,35.1,126.5,34.4,126.6,36.5]],
  "Japan":[[130.9,34,132.5,35.4,135.8,35.6,137,37.2,139.8,38.8,140,40.6,141.4,41.3,141.9,39.5,141,37,140.8,35.7,139.5,35,137,34.6,135.8,33.5,135,34.6,132.5,34.2],[140,41.5,140.5,43.3,141.7,45.4,145.3,43.9,143.2,42,141,42.5],[130,33.5,131.7,33.7,131.9,32.5,130.7,31.1,130.2,32],[132.3,33.3,134.3,34.3,134.6,33.7,133,32.8]],
  "Philippines":[[120.5,18.5,122.2,18.4,122,16,124,13,120.7,13.9,120,16],[122,7.2,123.5,8.7,125.5,9.8,126.5,7.5,125.5,5.8,124,6.5],[122,11.8,123.5,11.2,123,9.1,122,10],[124.3,12.5,125.7,11.2,125,10.2,124.3,11],[117.2,8.4,119.6,11.3,119.3,10],[120.4,13.4,121.5,13.1,121,12.3]],
  "Myanmar":[[92.4,20.6,93.3,22,94,23.8,95.2,26.5,97,28.3,98.7,27.5,98,24,99.3,22.2,101.2,21.2,100,20.3,97.5,18.5,98.9,15.8,98.2,14,99.2,11.5,98.7,10,98.5,12,97.7,15.5,97,16.8,95.4,15.8,94.3,16,94.2,18.5]],
  "Thailand":[[97.5,18.5,100,20.3,100.6,19.5,101,17.5,102.5,18,104.7,17.5,105.5,14.5,102.4,14,102.9,11.7,101,12.7,100.1,13.4,99.3,10.5,100.5,7.5,102,6.2,101,5.7,100.1,6.5,98.3,8,98.7,10,99.2,11.5,98.2,14,98.9,15.8]],
  "Laos":[[101.2,21.2,102,22.4,103,20.7,104.8,19,106.7,16.5,107.6,15,105.5,14.5,104.7,17.5,102.5,18,101,17.5,100.6,19.5,100,20.3]],
  "Vietnam":[[102,22.4,105.3,23.3,106.7,22.5,108,21.6,105.8,19,108.8,15.5,109.3,12,106.8,10.4,104.8,8.6,105,10.4,107.5,12.3,107.6,15,106.7,16.5,104.8,19,103,20.7]],
  "Cambodia":[[102.4,14,105.5,14.5,107.6,15,107.5,12.3,105,10.4,103,11,102.9,11.7]],
  "Malaysia":[[100.1,6.5,101,5.7,102,6.2,103.4,4,104.2,1.4,103.4,1.4,101,3,100.4,5.5],[109.6,2,111.2,2.5,113,3.1,115,4.9,116.7,7,119,5.2,117.7,4.2,115.8,4.2,114.7,1.5,112.5,1.5,110,1]],
  "Indonesia":[[109,1.5,109.6,2,110,1,112.5,1.5,114.7,1.5,115.8,4.2,117.7,4.2,117.8,1.5,119,1,117.5,0,116.5,-2,116,-4,114.5,-4,111,-3,110,-1.5],
    [95.3,5.6,97.5,5.2,100.5,2,103.5,0,104.5,-2,106,-3.2,105.8,-5.8,104.5,-5.8,102,-4,100.3,-1,98.6,1.7],[105.3,-6.8,106.7,-6,110.8,-6.4,114.5,-7.7,114.4,-8.7,110,-8,106.5,-7.4],[116,-8.8,119,-8.4,123,-8.3,122,-8.9,116.5,-9],[123.5,-10.3,125,-9,127.3,-8.4,125,-9.6],[119.2,-9.6,120.8,-10.2,119.8,-10],
    [119.5,-5.5,119,-3,119.8,0.2,120.8,1.3,125,1.6,124.5,0.4,120.5,0.5,120,-1,121.5,-1,123.3,-0.9,121.5,-2,122.8,-4.5,121.5,-4.8,120.9,-2.8,120.3,-3,120.4,-5.5],[127.5,2,128.7,1.2,128,-0.8,127.6,0.5],[128,-3,130.8,-3.3,129,-3.5],[126,-3.2,127.2,-3.4,126.6,-3.8],[105.1,-2,106.5,-3,105.8,-2.9],[97,1.4,97.8,0.9,97.5,0.7],
    [131,-0.8,134,-0.8,135,-3.3,138,-1.7,141,-2.6,141,-9.1,139,-8,138,-8.4,138.8,-6.8,135,-4.4,133,-4,132.8,-2.8,134,-2.2,132,-2.2]],
  "Papua New Guinea":[[141,-2.6,145,-4.3,147.8,-6,147,-6.8,150.8,-10.3,147.8,-10,146,-8,143.5,-7.9,143,-9.1,141,-9.1],[148.5,-5.6,152,-4.2,152.2,-5.5,149,-6.3],[151,-2.8,153,-4.5,152.6,-4.6]],
  "Solomon Islands":[[155,-5.5,156,-6.8,155.3,-6.7],[157,-7,159.5,-8.4,158.8,-8.6],[160,-9.2,161,-9.8,160,-9.8],[161,-8.5,161.6,-9.8,161.2,-9.6]],
  "Vanuatu":[[166.6,-15,167.2,-15.6,166.8,-15.7],[167.3,-16,167.8,-16.5,167.4,-16.5],[168.2,-17.6,168.6,-17.7,168.3,-17.9],[169.1,-18.7,169.4,-19,169,-19]],
  "Fiji":[[177.3,-17.5,178.6,-17.9,177.5,-18.3],[178.6,-16.6,180,-16.2,179,-17]],
  "Australia":[[114,-22,113.5,-26,115,-30,115,-34.3,118,-35,123.5,-33.9,126,-32.3,131,-31.5,134,-32.5,135.7,-34.8,137.8,-32.6,137.5,-35.2,139,-35.7,140.5,-38,143.5,-38.8,146.3,-39,150,-37.3,151.3,-33.8,153.2,-30,153.5,-27.5,151,-23.5,149,-21,146.3,-19,145.3,-15,143.6,-14,142.5,-10.8,141.7,-13,141,-17,139.5,-17.5,136,-15.5,137,-12.2,132.5,-11.3,130,-13,129.5,-15,126,-14,122.3,-17.5,119,-20],[144.7,-40.8,148.3,-40.9,148,-43,146,-43.6,145.3,-42.2]],
  "New Zealand":[[172.7,-34.5,175.5,-36.8,178.5,-37.7,177,-39.5,175.3,-41.6,174.8,-40,173.8,-39.3,174.7,-37.5],[172.7,-40.5,174.3,-41.7,172.8,-43.7,170.5,-46,168.4,-46.6,166.5,-46,169,-43.8,171.2,-42]],
  "Iran":[[44.8,39.7,46.5,39,48.9,38.4,49.5,37.5,51.5,36.7,54,37,56,38,58,37.6,61,36.6,61.2,35.6,60.8,33.5,60.6,31,61.7,30,61,29.5,63.2,27.2,61.6,25.2,58.5,25.7,56.9,27,55,26.6,52.5,27.5,50.8,29,50,30.2,48.5,29.9,47.7,31,46,33,45.5,35.8,44.4,37.2]],
  "United States":[[-124.7,48.4,-123,48.3,-122.8,49,-95.15,49,-95.15,49.4,-94.6,48.7,-92,48.3,-89.6,48,-92.1,46.7,-90.5,46.7,-88.4,47.4,-87.5,46.5,-85,46.7,-84.4,46.5,-84.7,46,-86.5,45.8,-87.6,45.1,-88,44.5,-87.4,44.9,-87.8,43,-87.6,41.7,-86.5,42,-86.3,43.8,-85.5,45,-84.8,45.8,-83.4,45.1,-83.4,44,-83.9,43.6,-82.9,44,-82.4,43,-83.1,42.1,-83.4,41.7,-81.7,41.5,-79,42.7,-79,43.3,-76.5,43.5,-76.2,44.1,-74.9,45,-71.5,45,-70.8,45.4,-70,46.7,-69.2,47.45,-68.3,47.3,-67.8,47.1,-67.8,45.7,-67,44.9,-68.5,44.3,-70,43.8,-70.7,42.8,-70.8,42.2,-70,41.8,-70.7,41.6,-72,41.3,-74,40.7,-74.1,39.8,-75.1,38.8,-75.9,37.2,-76,36.9,-75.5,35.3,-76.8,34.6,-78,33.9,-79.3,33,-81,32,-81.4,30.7,-81.2,29.5,-80.5,28.3,-80,26.8,-80.3,25.3,-81,25.2,-81.8,26.2,-82.7,27.8,-82.8,29,-84,30.1,-85.3,29.7,-86.5,30.4,-88,30.3,-89.5,30.2,-89.3,29.1,-90.5,29.2,-91.8,29.6,-93.8,29.7,-95,29.2,-97,27.9,-97.4,26.8,-97.2,25.95,-99.1,26.4,-99.5,27.5,-100.7,29.1,-101.4,29.8,-102.7,29.7,-103.2,29,-104.5,29.6,-106.5,31.75,-108.2,31.8,-108.2,31.3,-111,31.33,-114.8,32.5,-117.1,32.5,-117.3,33,-118.4,33.8,-119.2,34.15,-120.6,34.5,-120.7,35.2,-121.9,36.6,-122.5,37.7,-123,38,-123.8,39.3,-124.3,40.4,-124.1,41.8,-124.5,42.8,-124,44.5,-124,46.2],
    [-141,69.65,-141,60.3,-139,60,-137.5,58.9,-135.5,59.7,-133.5,58.4,-131.8,56.6,-130,55.9,-130.2,55,-131.8,55.2,-133.5,57,-135.8,58.2,-137.5,58.6,-139.8,59.6,-142,60,-145,60.4,-148,60,-149.8,59.6,-151.8,59.2,-151.5,60.8,-150,61.2,-152.5,60.5,-153.8,59.3,-155,58,-158,56.5,-161,55.2,-163.5,54.7,-164.8,54.6,-161.5,56,-158,58,-157.2,58.8,-159,58.6,-162,58.7,-161.8,60,-164.5,60.5,-165.4,61.6,-166,62,-164.8,63,-161,63.5,-161,64.5,-165,64.5,-168,65.6,-164,66.5,-162,66.2,-163.7,67.2,-166.5,68.4,-163,69.5,-160,70.6,-156.6,71.35,-152,70.8,-146,70.1],
    [-135.8,57.5,-134.8,57.3,-135,56.3],[-136.3,58.2,-135,58,-135.3,57.4],[-134.3,57.9,-133.9,57,-134.6,56.2],[-133.9,56.8,-133,56.5,-133.2,55.9],[-133.6,56.2,-132,55.9,-132.7,54.8],[-132.8,56.5,-131.9,55.9,-132.4,56.3],[-131.9,55.9,-131.2,55.9,-131.5,55.2],
    [-154.8,57.4,-152.3,58.3,-153,57],[-166.3,63.7,-168.8,63.4,-169.5,63,-168.3,63.2],[-167,60.3,-165.2,60.5,-165.8,59.9],[-166.6,53.9,-166,53.9,-167.8,53.3],[-169,53,-168,53.4,-168.5,52.9],[-171,52.6,-170,52.8,-170.5,52.5],[-174.5,52.3,-173.3,52.2,-174.2,52],[-177,51.9,-176,52,-176.8,51.6],[-179,51.6,-177.8,51.9,-178.3,51.6],[-172.5,52.2,-172,52.4,-172.3,52],[-179.9,52,-179,51.6,-179.5,51.4],[-173.3,60.7,-172.4,60.4,-173,60.2],
    [-155.9,20.2,-155,19.7,-155.7,19,-156,19.6],[-156.7,21,-156,20.8,-156.4,20.6],[-158.2,21.6,-157.7,21.4,-158,21.3],[-159.8,22.2,-159.3,22.2,-159.5,21.9],[-157.2,21.2,-156.7,21.1,-157,21]]
};

// Natural Earth projection, scaled straight to picture pixels
const earthRadius = 365, originX = 1050, originY = 663;
function projectPoint(point) {
  const lam = point[0] * Math.PI / 180, phi = point[1] * Math.PI / 180;
  const p2 = phi * phi, p4 = p2 * p2;
  const l = 0.8707 - 0.131979 * p2 + p4 * (-0.013791 + p4 * p2 * (0.003971 - 0.001529 * p2));
  const y = phi * (1.007226 + p2 * (0.015085 + p4 * (-0.044475 + 0.028874 * p2 - 0.005916 * p4)));
  return [originX + earthRadius * lam * l, originY - earthRadius * y];
}
const naturalEarth = {
  project: projectPoint,
  unproject: (p) => [(p[0] - originX) / earthRadius * 180 / Math.PI / 0.8707, (originY - p[1]) / earthRadius * 180 / Math.PI]
};

// Label anchor points for the two named countries
const labelPoints = { "United States": [-110.5, 39.4], "Iran": [54.6, 32.9] };

const toRing = (flat) => {
  const ring = [];
  for (let i = 0; i < flat.length; i += 2) ring.push([flat[i], flat[i + 1]]);
  ring.push(ring[0]);
  return ring;
};
const worldMap = {
  type: "FeatureCollection",
  features: Object.keys(outlines).map((name) => ({
    type: "Feature",
    properties: { name: name, cp: labelPoints[name] },
    geometry: { type: "MultiPolygon", coordinates: outlines[name].map((flat) => [toRing(flat)]) }
  }))
};
echarts.registerMap("world", worldMap);

// Work out the drawn extent so the map lands 1:1 on picture pixels
let minX = Infinity, maxX = -Infinity, minY = Infinity, maxY = -Infinity;
Object.values(outlines).forEach((rings) => rings.forEach((flat) => {
  for (let i = 0; i < flat.length; i += 2) {
    const p = projectPoint([flat[i], flat[i + 1]]);
    minX = Math.min(minX, p[0]); maxX = Math.max(maxX, p[0]);
    minY = Math.min(minY, p[1]); maxY = Math.max(maxY, p[1]);
  }
}));

const seriesData = netZeroCountries.map((name) => ({ name: name, value: 1 }))
  .concat(noTargetCountries.map((name) => {
    const item = { name: name, value: 0 };
    if (labelledCountries.includes(name)) {
      item.itemStyle = { borderColor: "#000", borderWidth: 2.6 };
      item.label = { show: true, fontSize: name === "Iran" ? 33 : 35.5 };
    }
    return item;
  }));

// The reference type is narrower than any installed face, so squeeze to the measured width
const measure = document.createElement("canvas").getContext("2d");
function squeezeTo(text, font, targetWidth) {
  measure.font = font;
  return targetWidth / measure.measureText(text).width;
}
const titleText = "US and Iran are world\u2019s only major CO2 emitters without net-zero targets";

const chart = echarts.init(document.getElementById("chart"), null, { renderer: "canvas" });
chart.setOption({
  animation: false,
  backgroundColor: "#fff",
  visualMap: {
    type: "piecewise",
    seriesIndex: 0,
    left: 34, top: 149,
    padding: 0,
    orient: "vertical",
    itemSymbol: "rect",
    itemWidth: 37, itemHeight: 36, itemGap: 16, textGap: 8,
    selectedMode: false,
    hoverLink: false,
    textStyle: { fontFamily: "Roboto", fontSize: 31, color: "#222" },
    pieces: [
      { value: 1, label: legendLabels[0], color: "#1f4571" },
      { value: 0, label: legendLabels[1], color: "#e3dfe2" }
    ]
  },
  series: [{
    type: "map",
    map: "world",
    projection: naturalEarth,
    layoutCenter: [(minX + maxX) / 2, (minY + maxY) / 2],
    layoutSize: maxX - minX,
    silent: true,
    selectedMode: false,
    itemStyle: { areaColor: "#dedede", borderColor: "#fff", borderWidth: 0.8 },
    label: {
      show: false,
      fontFamily: "Noto Sans", fontSize: 33, color: "#000",
      textBorderColor: "#fff", textBorderWidth: 6
    },
    emphasis: { disabled: true },
    data: seriesData
  }],
  graphic: [
    { type: "text", x: 17, y: 24, scaleX: squeezeTo(titleText, "700 57px 'Noto Sans'", 1813),
      style: { text: titleText, fontFamily: "Noto Sans", fontWeight: 700, fontSize: 57, fill: "#000" } },
    { type: "text", x: 17, y: 1093, scaleX: squeezeTo("Source: ", "700 31px 'Noto Sans'", 117) ,
      style: { text: "Source:", fontFamily: "Noto Sans", fontWeight: 700, fontSize: 31, fill: "#000" } },
    { type: "text", x: 134, y: 1093, scaleX: squeezeTo("Net Zero Tracker", "400 31px 'Noto Sans'", 234),
      style: { text: "Net Zero Tracker", fontFamily: "Noto Sans", fontSize: 31, fill: "#000" } },
    { type: "text", x: 1792, y: 1071, scaleX: 0.69, style: { text: "Carbon", fontFamily: "Roboto", fontWeight: 900, fontSize: 76, fill: "#264c78" } },
    { type: "text", x: 1968, y: 1071, scaleX: 0.69, style: { text: "Brief", fontFamily: "Roboto", fontWeight: 900, fontSize: 76, fill: "#5593cb" } },
    { type: "text", x: 1853, y: 1139, style: { text: "C   L   E   A   R      O   N      C   L   I   M   A   T   E", fontFamily: "Roboto", fontWeight: 500, fontSize: 11.5, fill: "#264c78" } }
  ]
});
</script>
</body>
</html>
]]>
